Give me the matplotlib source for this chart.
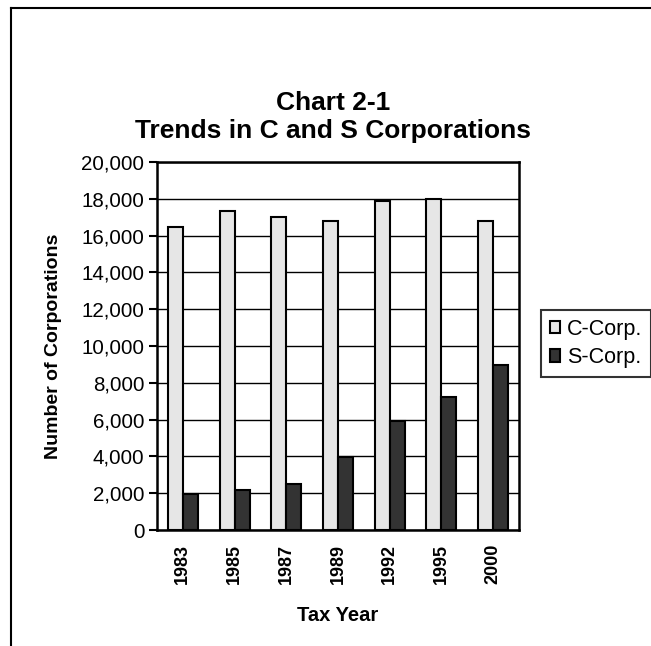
import matplotlib
matplotlib.use("Agg")
import matplotlib.pyplot as plt
from matplotlib.lines import Line2D
import numpy as np

plt.rcParams['font.family'] = ['Liberation Sans', 'DejaVu Sans']

# data
years = ["1983", "1985", "1987", "1989", "1992", "1995", "2000"]
c_corp = [16450, 17330, 17000, 16790, 17870, 18000, 16790]
s_corp = [1950, 2150, 2480, 3990, 5950, 7250, 8980]
y_ticks = list(range(0, 20001, 2000))

fig = plt.figure(figsize=(6.51, 6.46), dpi=100)
ax = fig.add_axes([157 / 651, 116 / 646, 362 / 651, 368 / 646])

x = np.arange(len(years))
w = 0.29
ax.bar(x - w / 2, c_corp, w, color="#e6e6e6", edgecolor="black", linewidth=1.5,
       label="C-Corp.", zorder=3)
ax.bar(x + w / 2, s_corp, w, color="#333333", edgecolor="black", linewidth=1.5,
       label="S-Corp.", zorder=3)

ax.set_xlim(-0.5, len(years) - 0.5)
ax.set_ylim(0, 20000)
ax.set_yticks(y_ticks)
ax.set_yticklabels([f"{v:,}" for v in y_ticks], fontsize=14.8)
ax.set_xticks(x)
ax.set_xticklabels(years, rotation=90, fontsize=13, fontweight="bold")
ax.tick_params(axis="x", length=0, pad=10)
ax.tick_params(axis="y", direction="out", length=6, width=1.5, pad=3)
ax.yaxis.grid(True, color="black", linewidth=1.0, zorder=0)
ax.set_axisbelow(True)
for s in ax.spines.values():
    s.set_linewidth(1.8)

ax.set_ylabel("Number of Corporations", fontsize=14, fontweight="bold", labelpad=14)
ax.set_xlabel("Tax Year", fontsize=14.5, fontweight="bold", labelpad=16)

fig.text(0.512, 1 - 103 / 646, "Chart 2-1", ha="center", va="center",
         fontsize=19, fontweight="bold")
fig.text(0.512, 1 - 131 / 646, "Trends in C and S Corporations", ha="center",
         va="center", fontsize=19, fontweight="bold")

leg = ax.legend(loc="upper left", bbox_to_anchor=(541 / 651, 1 - 310 / 646),
                bbox_transform=fig.transFigure, fontsize=15.5, frameon=True,
                fancybox=False, edgecolor="black", handlelength=0.5,
                handleheight=0.5, handletextpad=0.3, labelspacing=0.35,
                borderpad=0.4, borderaxespad=0)
leg.get_frame().set_linewidth(1.5)

# page border (top and left only, rest cropped)
fig.add_artist(Line2D([11 / 651, 11 / 651], [0, 1 - 8 / 646], color="black",
                      linewidth=1.5, transform=fig.transFigure))
fig.add_artist(Line2D([11 / 651, 1], [1 - 8 / 646, 1 - 8 / 646], color="black",
                      linewidth=1.5, transform=fig.transFigure))

fig.savefig("out.png", dpi=100)
